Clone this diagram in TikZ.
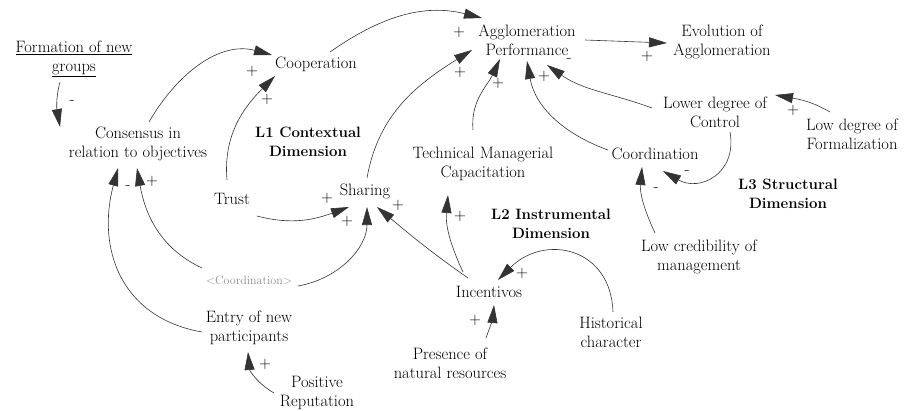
\documentclass[tikz,border=0pt]{standalone}
\usetikzlibrary{arrows.meta}
\begin{document}
\begin{tikzpicture}[x=1pt,y=1pt,
  lab/.style={font=\fontsize{16.5}{19}\selectfont, align=center, inner sep=0pt},
  boldlab/.style={font=\fontsize{15}{19}\selectfont\bfseries, align=center, inner sep=0pt},
  shadowlab/.style={inner sep=0pt, font=\fontsize{12}{15}\selectfont, text=black!45},
  sgn/.style={inner sep=0pt, font=\fontsize{16.5}{17}\selectfont},
  link/.style={draw=black!80, line width=0.6pt, -{Triangle[length=18pt,width=10pt]}},
]
\useasboundingbox (0,0) rectangle (904,410);
% variables
\node[lab] (form) at (74,351) {\underline{Formation of new}\\\underline{groups}};
\node[lab] (cons) at (138,266) {Consensus in\\relation to objectives};
\node[lab] (coop) at (316,346) {Cooperation};
\node[boldlab] (l1) at (308,268) {L1 Contextual\\Dimension};
\node[lab] (trust) at (232,211) {Trust};
\node[lab] (sharing) at (365,219) {Sharing};
\node[lab] (agg) at (527,370) {Agglomeration\\Performance};
\node[lab] (evo) at (722,368) {Evolution of\\Agglomeration};
\node[lab] (ldc) at (715,298) {Lower degree of\\Control};
\node[lab] (ldf) at (852,276) {Low degree of\\Formalization};
\node[lab] (coord) at (655,256) {Coordination};
\node[boldlab] (l3) at (788,216) {L3 Structural\\Dimension};
\node[lab] (tmc) at (483,246) {Technical Managerial\\Capacitation};
\node[boldlab] (l2) at (551,186) {L2 Instrumental\\Dimension};
\node[lab] (lcm) at (699,153) {Low credibility of\\management};
\node[lab] (inc) at (489,118) {Incentivos};
\node[lab] (hist) at (611,78) {Historical\\character};
\node[lab] (pres) at (450,47) {Presence of\\natural resources};
\node[shadowlab] (shadow) at (249,130) {<Coordination>};
\node[lab] (entry) at (249,82) {Entry of new\\participants};
\node[lab] (posrep) at (317,17) {Positive\\Reputation};
% links
\draw[link] ([shift={(-14,-23)}]form.center) to[out=-105,in=100] ([shift={(-78,17)}]cons.center);
\draw[link] ([shift={(11,22)}]cons.center) to[out=60,in=165] ([shift={(-44,9)}]coop.center);
\draw[link] ([shift={(-5,19)}]trust.center) to[out=95,in=225] ([shift={(-41,-12)}]coop.center);
\draw[link] ([shift={(14,12)}]coop.center) to[out=35,in=166] ([shift={(-45,22)}]agg.center);
\draw[link] ([shift={(58,0)}]agg.center) -- ([shift={(-55,-1)}]evo.center);
\draw[link] ([shift={(2,13)}]sharing.center) to[out=80,in=212] ([shift={(-55,-10)}]agg.center);
\draw[link] ([shift={(-10,34)}]tmc.center) to[out=95,in=245] ([shift={(-27,-19)}]agg.center);
\draw[link] ([shift={(-47,4)}]coord.center) to[out=160,in=-80] ([shift={(0,-21)}]agg.center);
\draw[link] ([shift={(-63,4)}]ldc.center) to[out=160,in=-35] ([shift={(20,-25)}]agg.center);
\draw[link] ([shift={(-22,22)}]ldf.center) to[out=150,in=-10] ([shift={(60,17)}]ldc.center);
\draw[link] ([shift={(15,-20)}]ldc.center) to[out=-80,in=-30,looseness=1.4] ([shift={(8,-17)}]coord.center);
\draw[link] ([shift={(-44,24)}]lcm.center) to[out=115,in=-95] ([shift={(-13,-13)}]coord.center);
\draw[link] ([shift={(-21,14)}]inc.center) to[out=145,in=-40] ([shift={(12,-16)}]sharing.center);
\draw[link] ([shift={(-26,20)}]inc.center) to[out=115,in=-95] ([shift={(-35,-31)}]tmc.center);
\draw[link] ([shift={(25,-17)}]trust.center) to[out=-15,in=200] ([shift={(-16,-16)}]sharing.center);
\draw[link] ([shift={(49,-6)}]shadow.center) to[out=10,in=-90] ([shift={(2,-16)}]sharing.center);
\draw[link] ([shift={(-47,12)}]shadow.center) to[out=155,in=-80] ([shift={(-1,-24)}]cons.center);
\draw[link] ([shift={(-47,-4)}]entry.center) to[out=170,in=255,looseness=1.15] ([shift={(-20,-24)}]cons.center);
\draw[link] ([shift={(-43,0)}]posrep.center) to[out=150,in=-85] ([shift={(-1,-24)}]entry.center);
\draw[link] ([shift={(2,20)}]hist.center) to[out=92,in=45,looseness=1.4] ([shift={(9,12)}]inc.center);
\draw[link] ([shift={(36,25)}]pres.center) to[out=70,in=-95] ([shift={(5,-13)}]inc.center);
% polarities
\node[sgn] (s1) at (72,307) {-};
\node[sgn] (s2) at (252,339) {+};
\node[sgn] (s3) at (267,311) {+};
\node[sgn] (s4) at (459,378) {+};
\node[sgn] (s5) at (647,354) {+};
\node[sgn] (s6) at (460,338) {+};
\node[sgn] (s7) at (498,327) {+};
\node[sgn] (s8) at (544,334) {+};
\node[sgn] (s9) at (569,349) {-};
\node[sgn] (s10) at (793,300) {+};
\node[sgn] (s11) at (687,237) {-};
\node[sgn] (s12) at (656,220) {-};
\node[sgn] (s13) at (327,212) {+};
\node[sgn] (s14) at (347,189) {+};
\node[sgn] (s15) at (398,205) {+};
\node[sgn] (s16) at (460,194) {+};
\node[sgn] (s17) at (128,222) {-};
\node[sgn] (s18) at (152,229) {+};
\node[sgn] (s19) at (265,46) {+};
\node[sgn] (s20) at (522,137) {+};
\node[sgn] (s21) at (475,90) {+};
\end{tikzpicture}
\end{document}
